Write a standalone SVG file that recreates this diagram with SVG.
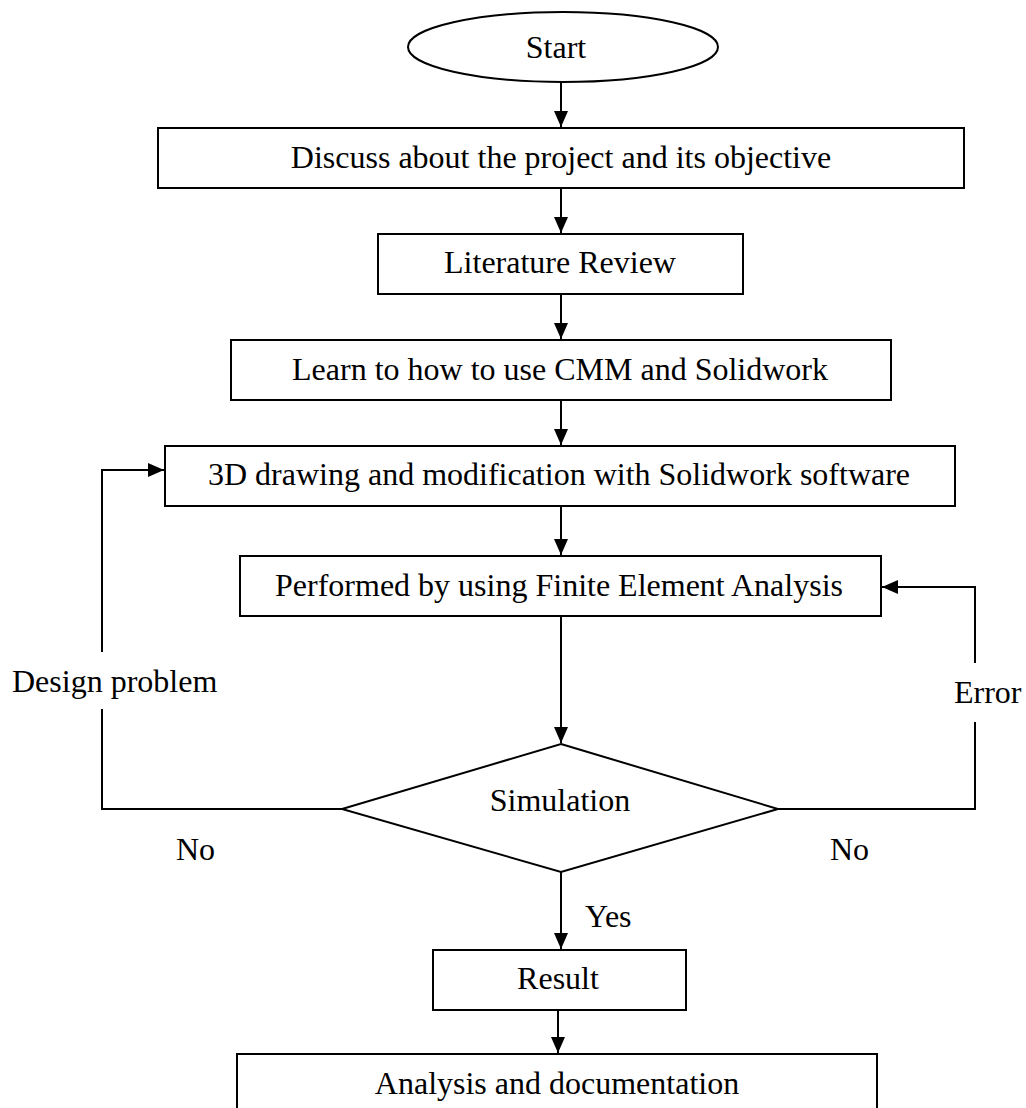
<svg xmlns="http://www.w3.org/2000/svg" width="1026" height="1108" viewBox="0 0 1026 1108">
<style>
.box{fill:#fff;stroke:#000;stroke-width:2}
.lbl{font-family:"Liberation Serif","Times New Roman",serif;font-size:32px;fill:#000}
.mid{text-anchor:middle}
.con{fill:none;stroke:#000;stroke-width:2}
</style>
<defs>
<marker id="ah" markerUnits="userSpaceOnUse" markerWidth="16" markerHeight="16" viewBox="0 0 16 14" refX="16" refY="7" orient="auto">
<path d="M0,0 L16,7 L0,14 Z" fill="#000"/>
</marker>
</defs>
<rect width="1026" height="1108" fill="#fff"/>
<g id="connectors">
<line class="con" x1="561" y1="82" x2="561" y2="127" marker-end="url(#ah)"/>
<line class="con" x1="561" y1="188" x2="561" y2="233" marker-end="url(#ah)"/>
<line class="con" x1="561" y1="294" x2="561" y2="339" marker-end="url(#ah)"/>
<line class="con" x1="561" y1="400" x2="561" y2="445" marker-end="url(#ah)"/>
<line class="con" x1="561" y1="506" x2="561" y2="555" marker-end="url(#ah)"/>
<line class="con" x1="561" y1="616" x2="561" y2="743" marker-end="url(#ah)"/>
<line class="con" x1="561" y1="872" x2="561" y2="949" marker-end="url(#ah)"/>
<line class="con" x1="558" y1="1010" x2="558" y2="1053" marker-end="url(#ah)"/>
<path class="con" d="M342,809 H102 V709"/>
<path class="con" d="M102,652 V470 H164" marker-end="url(#ah)"/>
<path class="con" d="M778,809 H975 V722"/>
<path class="con" d="M975,663 V587 H882" marker-end="url(#ah)"/>
<text class="lbl" x="12" y="692">Design problem</text>
<text class="lbl" x="954" y="703">Error</text>
<text class="lbl" x="176" y="860">No</text>
<text class="lbl" x="830" y="860">No</text>
<text class="lbl" x="585" y="927">Yes</text>
</g>
<g id="start">
<ellipse class="box" cx="563" cy="47" rx="155" ry="35"/>
<text class="lbl mid" x="556" y="58">Start</text>
</g>
<g id="discuss">
<rect class="box" x="158" y="128" width="806" height="60"/>
<text class="lbl mid" x="561" y="168">Discuss about the project and its objective</text>
</g>
<g id="literature">
<rect class="box" x="378" y="234" width="365" height="60"/>
<text class="lbl mid" x="560" y="273">Literature Review</text>
</g>
<g id="learn">
<rect class="box" x="231" y="340" width="660" height="60"/>
<text class="lbl mid" x="560" y="380">Learn to how to use CMM and Solidwork</text>
</g>
<g id="drawing">
<rect class="box" x="165" y="446" width="790" height="60"/>
<text class="lbl mid" x="559" y="485">3D drawing and modification with Solidwork software</text>
</g>
<g id="fea">
<rect class="box" x="240" y="556" width="641" height="60"/>
<text class="lbl mid" x="559" y="596">Performed by using Finite Element Analysis</text>
</g>
<g id="simulation">
<polygon class="box" points="561,744 778,809 561,872 342,809"/>
<text class="lbl mid" x="560" y="811">Simulation</text>
</g>
<g id="result">
<rect class="box" x="433" y="950" width="253" height="60"/>
<text class="lbl mid" x="558" y="989">Result</text>
</g>
<g id="analysis">
<rect class="box" x="237" y="1054" width="640" height="80"/>
<text class="lbl mid" x="557" y="1094">Analysis and documentation</text>
</g>
</svg>
